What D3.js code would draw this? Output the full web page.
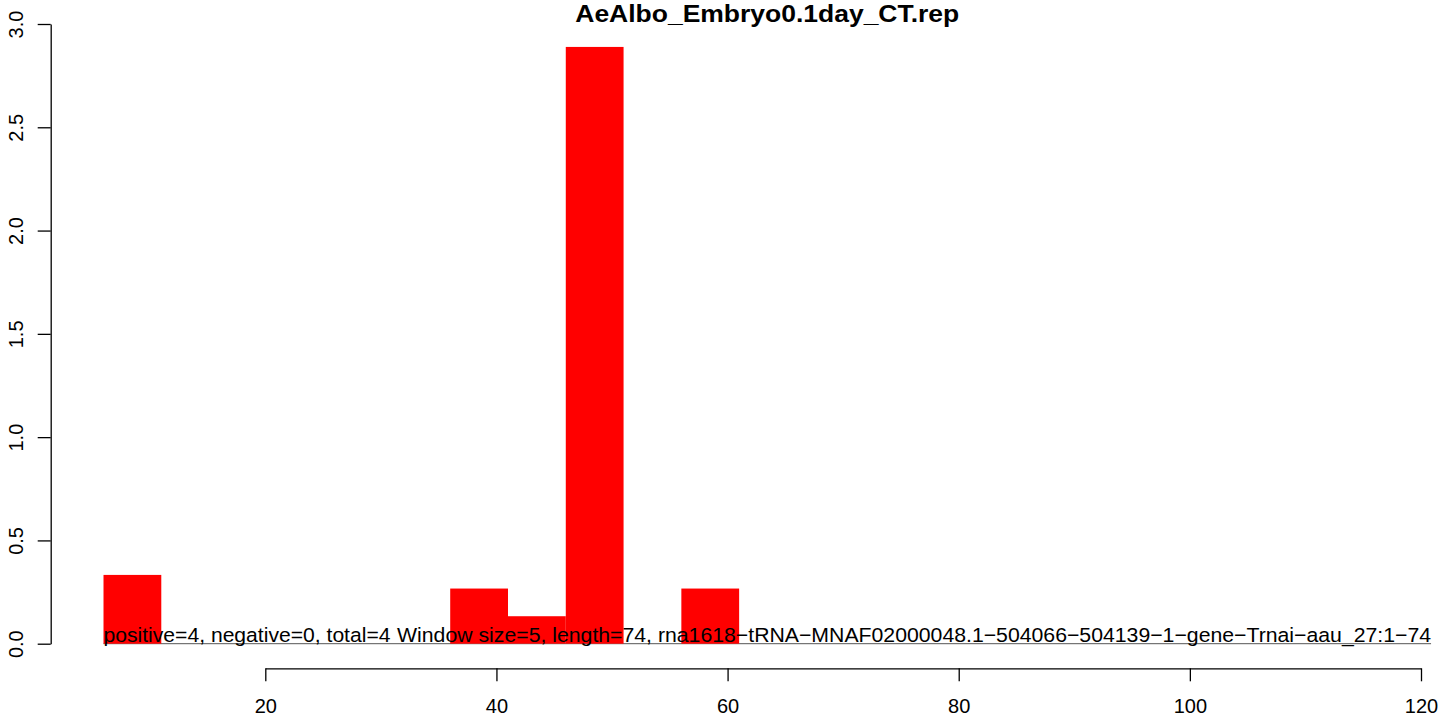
<!DOCTYPE html>
<html>
<head>
<meta charset="utf-8">
<script src="https://cdn.jsdelivr.net/npm/d3@7"></script>
<style>
body { margin: 0; background: #fff; }
text { font-family: "Liberation Sans", Arial, Helvetica, sans-serif; }
</style>
</head>
<body>
<script>
var title = "AeAlbo_Embryo0.1day_CT.rep"
var binStarts = [6, 36, 41, 46, 56];
var binValues = [0.333, 0.267, 0.133, 2.889, 0.267];
var binWidth = 5;
var xTicks = [20, 40, 60, 80, 100, 120];
var yTicks = [0, 0.5, 1, 1.5, 2, 2.5, 3];
var leftLabel = "positive=4, negative=0, total=4";
var rightLabel = "Window size=5, length=74, rna1618\u2212tRNA\u2212MNAF02000048.1\u2212504066\u2212504139\u22121\u2212gene\u2212Trnai\u2212aau_27:1\u221274";
var baseFrom = 6, baseTo = 120.87;

var W = 1444, H = 719;
var Red = "#FF0000";

var data = [];
for (var i = 0; i < binStarts.length; i++) {
	data.push({'x0': binStarts[i], 'x1': binStarts[i] + binWidth, 'v': binValues[i]});
}

var svg = d3.select("body").append("svg")
	.attr("width", W)
	.attr("height", H);

var x = d3.scaleLinear().domain([20, 120]).range([265.3, 1421]);
var y = d3.scaleLinear().domain([0, 3]).range([643.7, 24]);

// zero line
svg.append("line")
	.attr("x1", x(baseFrom))
	.attr("x2", x(baseTo))
	.attr("y1", y(0))
	.attr("y2", y(0))
	.attr("stroke", "#555")
	.attr("stroke-width", 1);

// bars
svg.selectAll(".bar").data(data).enter()
	.append("rect")
	.attr("class", "bar")
	.attr("x", d => x(d.x0))
	.attr("width", d => x(d.x1) - x(d.x0))
	.attr("y", d => y(d.v))
	.attr("height", d => y(0) - y(d.v))
	.attr("fill", Red);

// labels at baseline (R's font runs a bit wider than Liberation)
svg.append("text")
	.attr("x", x(baseFrom))
	.attr("y", y(0) - 1.5)
	.attr("font-size", "20.5px")
	.attr("textLength", 287)
	.attr("lengthAdjust", "spacingAndGlyphs")
	.attr("fill", "#000")
	.text(leftLabel);

svg.append("text")
	.attr("x", x(baseTo) - 1034)
	.attr("y", y(0) - 1.5)
	.attr("font-size", "20.5px")
	.attr("textLength", 1034)
	.attr("lengthAdjust", "spacingAndGlyphs")
	.attr("fill", "#000")
	.text(rightLabel);

// title
svg.append("text")
	.attr("x", (x(baseFrom) + x(baseTo)) / 2 - 192)
	.attr("y", 22)
	.attr("font-size", "24px")
	.attr("font-weight", "bold")
	.attr("textLength", 384)
	.attr("lengthAdjust", "spacingAndGlyphs")
	.text(title);

// x axis
var xAxis = svg.append("g")
	.attr("transform", "translate(0,668.3)")
	.call(d3.axisBottom(x).tickValues(xTicks).tickSize(13).tickSizeOuter(0).tickPadding(18).tickFormat(d3.format("d")));
xAxis.selectAll("text").attr("font-size", "20px").attr("fill", "#000").attr("font-family", null);

// y axis
var yAxis = svg.append("g")
	.attr("transform", "translate(50.7,0)")
	.call(d3.axisLeft(y).tickValues(yTicks).tickSize(13).tickSizeOuter(0).tickFormat(d3.format(".1f")));
yAxis.selectAll("text")
	.attr("font-size", "20px")
	.attr("fill", "#000")
	.attr("font-family", null)
	.attr("transform", "rotate(-90)")
	.attr("text-anchor", "middle")
	.attr("x", 0)
	.attr("y", -28)
	.attr("dy", 0);

svg.selectAll(".domain, .tick line").attr("stroke", "#000").attr("stroke-width", 1.3);
</script>
</body>
</html>
